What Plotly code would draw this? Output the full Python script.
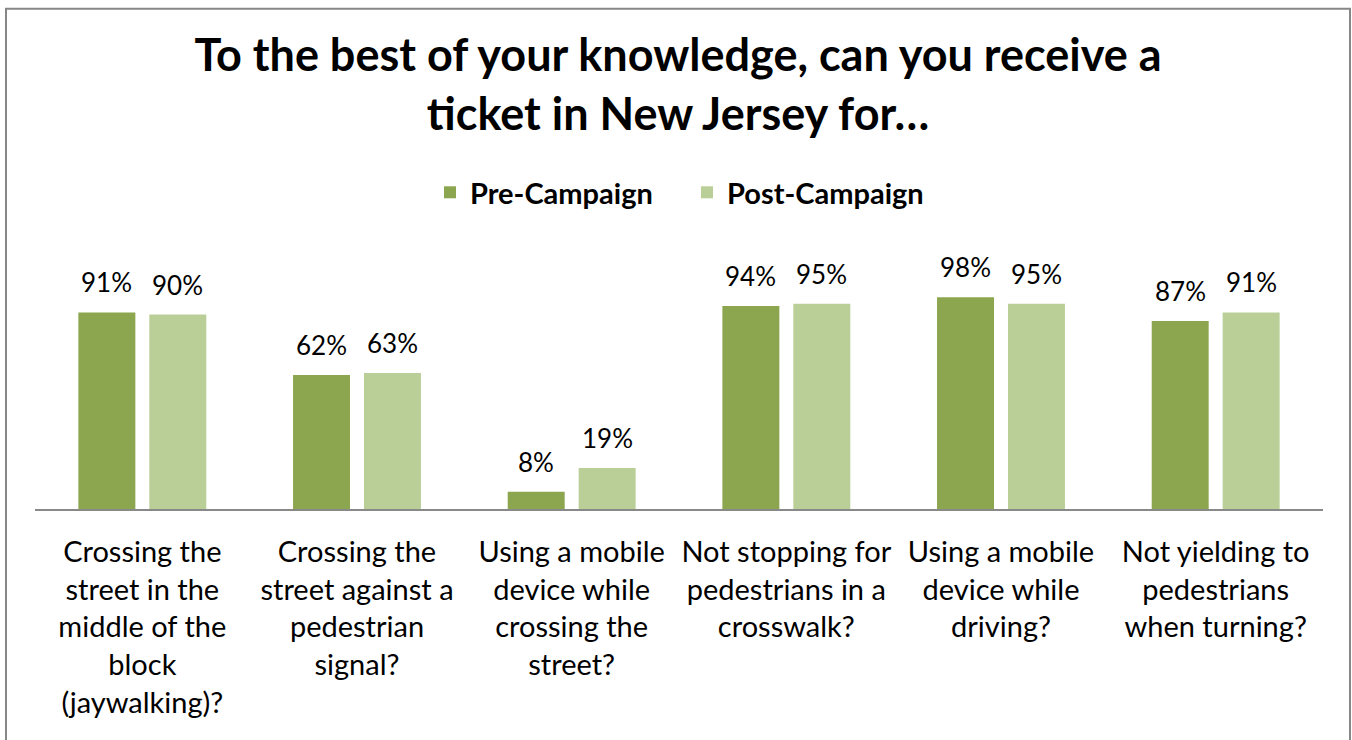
import plotly.graph_objects as go

categories = [
    "Crossing the<br>street in the<br>middle of the<br>block<br>(jaywalking)?",
    "Crossing the<br>street against a<br>pedestrian<br>signal?",
    "Using a mobile<br>device while<br>crossing the<br>street?",
    "Not stopping for<br>pedestrians in a<br>crosswalk?",
    "Using a mobile<br>device while<br>driving?",
    "Not yielding to<br>pedestrians<br>when turning?",
]
pre_campaign = [91, 62, 8, 94, 98, 87]
post_campaign = [90, 63, 19, 95, 95, 91]
series_names = ["Pre-Campaign", "Post-Campaign"]

PRE_COLOR = "#8BA64F"
POST_COLOR = "#BACF98"
FONT = "Lato"

W, H = 1352, 740
L, R = 35, 29
PLOT_BOTTOM = 509
Y_MAX = 100
PX_PER_UNIT = 2.163
plot_h = Y_MAX * PX_PER_UNIT
T = PLOT_BOTTOM - plot_h
B = H - PLOT_BOTTOM
plot_w = W - L - R

BARGAP = 0.339
BARGROUPGAP = 0.197

def px_x(px):
    return (px - L) / plot_w

def px_y(py):
    return (PLOT_BOTTOM - py) / plot_h

idx = list(range(len(categories)))

fig = go.Figure()
fig.add_trace(go.Bar(x=idx, y=pre_campaign, name=series_names[0],
                     marker=dict(color=PRE_COLOR, line=dict(width=0))))
fig.add_trace(go.Bar(x=idx, y=post_campaign, name=series_names[1],
                     marker=dict(color=POST_COLOR, line=dict(width=0))))

off = (1 - BARGAP) / 4
annotations = []
for i in idx:
    for dx, v in ((-off, pre_campaign[i]), (off, post_campaign[i])):
        annotations.append(dict(
            x=i + dx, y=v, xref="x", yref="y", text=f"{v}%",
            showarrow=False, yanchor="bottom", xanchor="center", yshift=12,
            font=dict(family=FONT, size=26, color="#000000")))

fig.update_layout(
    width=W, height=H,
    margin=dict(l=L, r=R, t=T, b=B, pad=0),
    paper_bgcolor="white", plot_bgcolor="white",
    barmode="group", bargap=BARGAP, bargroupgap=BARGROUPGAP,
    title=dict(
        text="<b>To the best of your knowledge, can you receive a<br>ticket in New Jersey for…</b>",
        x=678 / W, xanchor="center", xref="container",
        y=1 - 71 / H, yanchor="top", yref="container",
        font=dict(family=FONT, size=45, color="#000000")),
    legend=dict(orientation="h", x=px_x(430), xanchor="left", y=px_y(192), yanchor="middle",
                font=dict(family=FONT, size=29, color="#000000", weight="bold"),
                bgcolor="rgba(0,0,0,0)", itemwidth=30, tracegroupgap=0,
                entrywidth=212),
    xaxis=dict(range=[-0.5, len(categories) - 0.5], tickmode="array", tickvals=idx,
               ticktext=categories, showline=True, linecolor="#898989", linewidth=2,
               ticks="", showgrid=False, zeroline=False, ticklabelstandoff=16,
               tickfont=dict(family=FONT, size=29, color="#000000"), tickangle=0),
    yaxis=dict(range=[0, Y_MAX], visible=False, showgrid=False, zeroline=False),
    annotations=annotations,
    shapes=[dict(type="rect", xref="paper", yref="paper",
                 x0=px_x(6), x1=px_x(1350), y0=px_y(760), y1=px_y(8),
                 line=dict(color="#878787", width=2), fillcolor="rgba(0,0,0,0)", layer="below")],
    showlegend=True,
)

fig.write_html("out.html", config={"displayModeBar": False},
               post_script="document.body.style.margin='0';document.body.style.overflow='hidden';")
